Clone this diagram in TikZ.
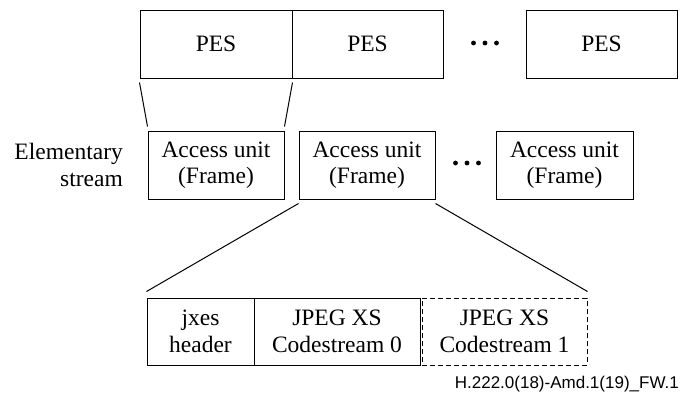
\documentclass[tikz,border=0pt]{standalone}
\usepackage{fontspec}
\setmainfont{Liberation Serif}
\newfontfamily\capfont{Liberation Sans}
\begin{document}
\begin{tikzpicture}[x=1pt,y=-1pt,
  box/.style={draw, line width=1pt, inner sep=0pt, align=center,
    font=\fontsize{23.5}{26.5}\selectfont},
  link/.style={line width=1pt},
  dotfill/.style={fill=black}]
\useasboundingbox (0,0) rectangle (680,392);
% PES row
\node[box, minimum width=152pt, minimum height=68pt] (pes1) at (216,44) {PES};
\node[box, minimum width=151pt, minimum height=68pt] (pes2) at (367.5,44) {PES};
\node[box, minimum width=151pt, minimum height=68pt] (pes3) at (601.5,44) {PES};
\foreach \dx in {-11.5,0,11.5}{\fill[dotfill] (485+\dx,43) circle (2.4pt);}
% Access unit row
\node[box, minimum width=136pt, minimum height=68pt] (au1) at (216,165) {Access unit\\(Frame)};
\node[box, minimum width=136pt, minimum height=68pt] (au2) at (367,165) {Access unit\\(Frame)};
\node[box, minimum width=137pt, minimum height=68pt] (au3) at (564.5,165) {Access unit\\(Frame)};
\foreach \dx in {-11.5,0,11.5}{\fill[dotfill] (467+\dx,163) circle (2.4pt);}
\node[align=right, anchor=east, inner sep=0pt, font=\fontsize{23.5}{26.5}\selectfont] (es) at (123,165) {Elementary\\stream};
% bottom row
\node[box, minimum width=107pt, minimum height=67pt] (jx) at (200.5,331.5) {jxes\\header};
\node[box, minimum width=166pt, minimum height=67pt] (cs0) at (337,331.5) {JPEG XS\\Codestream 0};
\node[box, dash pattern=on 5pt off 3pt, minimum width=165pt, minimum height=67pt] (cs1) at (504.5,331.5) {JPEG XS\\Codestream 1};
% connectors
\draw[link] ([yshift=-4pt]pes1.south west) -- ([yshift=4pt]au1.north west);
\draw[link] ([yshift=-4pt]pes1.south east) -- ([yshift=4pt]au1.north east);
\draw[link] ([yshift=-4pt]au2.south west) -- ([yshift=6pt]jx.north west);
\draw[link] ([yshift=-4pt]au2.south east) -- ([yshift=6pt]cs1.north east);
% caption
\node[anchor=base east, inner sep=0pt, font=\capfont\fontsize{17}{20}\selectfont] (cap) at (679,388) {H.222.0(18)-Amd.1(19)\_FW.1};
\end{tikzpicture}
\end{document}
